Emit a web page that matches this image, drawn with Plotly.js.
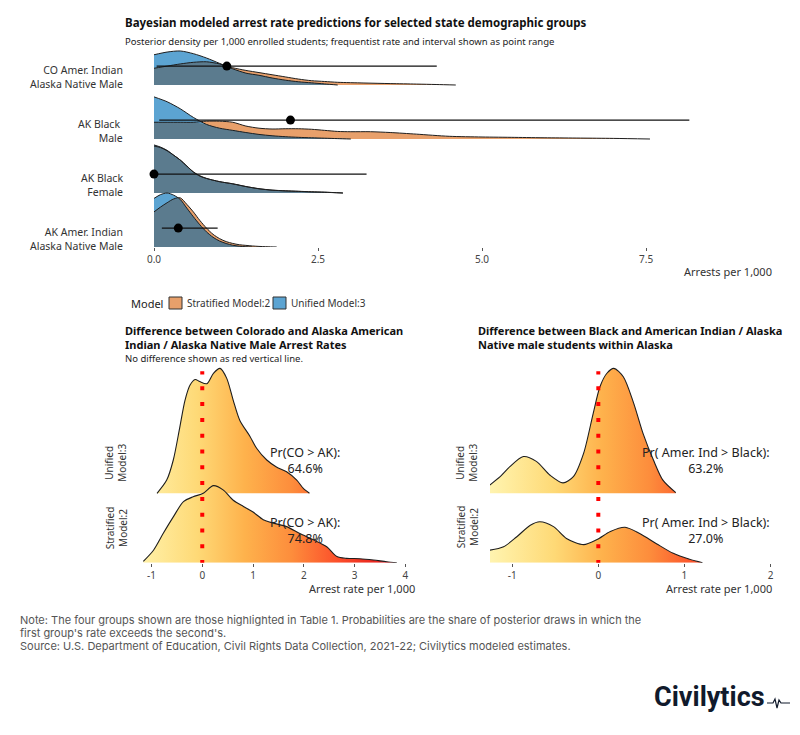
<!DOCTYPE html>
<html>
<head>
<meta charset="UTF-8">
<script src="https://cdn.plot.ly/plotly-3.0.1.min.js"></script>
<style>
  body { margin: 0; background: #fff; }
  #chart { width: 800px; height: 735px; }
</style>
</head>
<body>
<div id="chart"></div>
<script>
// ---- top panel: posterior densities per group (scaled, 1 = ridge spacing) ----
const groupLabels = ['AK Amer. Indian<br>Alaska Native Male', 'AK Black<br>Female', 'AK Black\u00a0<br>Male', 'CO Amer. Indian<br>Alaska Native Male'];

const akAianX = [0, 0.1, 0.2, 0.3, 0.4, 0.5, 0.6, 0.7, 0.8, 0.9, 1.0, 1.1, 1.2, 1.3, 1.4, 1.5, 1.6, 1.7, 1.8, 1.87];
const akAianStrat = [0.65, 0.74, 0.82, 0.89, 0.91, 0.79, 0.65, 0.49, 0.35, 0.235, 0.155, 0.10, 0.066, 0.042, 0.03, 0.019, 0.011, 0.006, 0.002, 0];
const akAianUnif = [0.90, 0.97, 1.0, 0.96, 0.88, 0.72, 0.56, 0.41, 0.28, 0.18, 0.11, 0.065, 0.033, 0.015, 0.004, 0];

const akBfX = [0, 0.1, 0.2, 0.3, 0.4, 0.5, 0.6, 0.7, 0.8, 1.0, 1.2, 1.4, 1.6, 1.8, 2.0, 2.2, 2.4, 2.6, 2.88];
const akBfStrat = [0.87, 0.84, 0.78, 0.70, 0.61, 0.50, 0.39, 0.32, 0.27, 0.21, 0.17, 0.12, 0.08, 0.054, 0.041, 0.032, 0.023, 0.016, 0];
const akBfUnif = [0.89, 0.85, 0.79, 0.70, 0.61, 0.50, 0.39, 0.31, 0.27, 0.21, 0.17, 0.12, 0.078, 0.052, 0.039, 0.03, 0.02, 0.013, 0];

const akBmX = [0, 0.2, 0.4, 0.6, 0.8, 1.0, 1.2, 1.4, 1.6, 1.8, 2.0, 2.2, 2.4, 2.6, 2.8, 3.0, 3.3, 3.6, 4.0, 4.5, 5.0, 5.5, 6.0, 6.5, 7.0, 7.56];
const akBmStrat = [0.31, 0.31, 0.31, 0.31, 0.33, 0.33, 0.31, 0.24, 0.20, 0.185, 0.19, 0.19, 0.18, 0.16, 0.14, 0.135, 0.135, 0.12, 0.09, 0.05, 0.037, 0.03, 0.022, 0.017, 0.011, 0];
const akBmUnif = [0.78, 0.69, 0.56, 0.40, 0.27, 0.20, 0.16, 0.12, 0.085, 0.06, 0.043, 0.031, 0.022, 0.015, 0.007, 0];

const coAianX = [0, 0.2, 0.4, 0.6, 0.8, 1.0, 1.2, 1.4, 1.6, 1.8, 2.0, 2.2, 2.4, 2.6, 2.8, 3.2, 3.6, 4.0, 4.3, 4.6];
const coAianStrat = [0.31, 0.35, 0.39, 0.42, 0.43, 0.39, 0.32, 0.27, 0.23, 0.19, 0.15, 0.11, 0.08, 0.065, 0.05, 0.037, 0.026, 0.017, 0.009, 0];
const coAianUnif = [0.56, 0.61, 0.63, 0.58, 0.50, 0.40, 0.30, 0.22, 0.18, 0.13, 0.09, 0.06, 0.04, 0.02, 0];

// frequentist rate and interval
const freqRate = [0.37, 0, 2.08, 1.11];
const freqLow = [0.12, 0, 0.08, 0.04];
const freqHigh = [0.97, 3.24, 8.16, 4.31];

// ---- bottom panels: posterior difference densities ----
const coAkUnifX = [-0.89, -0.70, -0.57, -0.44, -0.34, -0.24, -0.14, -0.05, 0.09, 0.22, 0.35, 0.48, 0.61, 0.74, 0.94, 1.07, 1.27, 1.46, 1.66, 1.86, 1.99, 2.11];
const coAkUnifY = [0, 0.19, 0.48, 0.96, 1.34, 1.56, 1.64, 1.61, 1.58, 1.73, 1.80, 1.66, 1.34, 1.05, 0.82, 0.65, 0.48, 0.38, 0.31, 0.19, 0.07, 0];
const coAkStratX = [-1.16, -0.96, -0.77, -0.57, -0.37, -0.18, 0.02, 0.22, 0.41, 0.61, 0.81, 1.0, 1.2, 1.40, 1.66, 1.92, 2.19, 2.45, 2.65, 2.84, 3.1, 3.37, 3.63, 3.83];
const coAkStratY = [0.02, 0.18, 0.42, 0.66, 0.88, 0.95, 1.0, 1.11, 1.05, 0.90, 0.81, 0.73, 0.62, 0.57, 0.52, 0.42, 0.33, 0.23, 0.09, 0.063, 0.058, 0.039, 0.014, 0];

const bAiUnifX = [-1.26, -1.14, -1.03, -0.87, -0.72, -0.56, -0.41, -0.29, -0.17, -0.06, 0.02, 0.10, 0.18, 0.29, 0.41, 0.52, 0.64, 0.75, 0.90];
const bAiUnifY = [0.12, 0.24, 0.38, 0.53, 0.46, 0.26, 0.15, 0.24, 0.58, 1.15, 1.54, 1.73, 1.80, 1.68, 1.30, 0.86, 0.48, 0.19, 0.01];
const bAiStratX = [-1.26, -1.10, -0.95, -0.79, -0.68, -0.52, -0.37, -0.17, -0.02, 0.14, 0.31, 0.48, 0.68, 0.87, 1.06, 1.21];
const bAiStratY = [0.18, 0.23, 0.37, 0.54, 0.59, 0.52, 0.35, 0.26, 0.33, 0.45, 0.51, 0.42, 0.27, 0.135, 0.05, 0];

const modelLabels = ['Stratified<br>Model:2', 'Unified<br>Model:3'];
const probCoAk = ['74.8%', '64.6%'];
const probAiB = ['27.0%', '63.2%'];

const ORANGE = '#E8A06B';
const BLUE = '#5CA4D2';
const SLATE = '#5B7B8E';
const INK = '#1e1e1e';
const FONT = 'Noto Sans, DejaVu Sans, sans-serif';

const W = 800, H = 735;
const px = v => v / W;
const py = v => 1 - v / H;

const YLORRD = [[0, '#ffffcc'], [0.125, '#ffeda0'], [0.25, '#fed976'], [0.375, '#feb24c'], [0.5, '#fd8d3c'], [0.625, '#fc4e2a'], [0.75, '#e31a1c'], [0.875, '#bd0026'], [1, '#800026']];

const traces = [];

function baseTrace(xs, base, xa, ya) {
  return {
    x: [xs[0], xs[xs.length - 1]], y: [base, base], xaxis: xa, yaxis: ya,
    mode: 'lines', line: { width: 0 }, hoverinfo: 'skip', showlegend: false
  };
}

function areaTrace(xs, hs, base, xa, ya, extra) {
  return Object.assign({
    x: xs, y: hs.map(h => base + h), xaxis: xa, yaxis: ya,
    mode: 'lines', fill: 'tonexty', hoverinfo: 'skip', showlegend: false,
    line: { width: 0, shape: 'spline', smoothing: 0.8 }
  }, extra);
}

function outline(xs, hs, base, xa, ya, w) {
  return {
    x: xs, y: hs.map(h => base + h), xaxis: xa, yaxis: ya,
    mode: 'lines', hoverinfo: 'skip', showlegend: false,
    line: { color: INK, width: w, shape: 'spline', smoothing: 0.8 }
  };
}

// top ridges (drawn from top row to bottom row)
const ridgeData = [
  [akAianX, akAianStrat, akAianUnif],
  [akBfX, akBfStrat, akBfUnif],
  [akBmX, akBmStrat, akBmUnif],
  [coAianX, coAianStrat, coAianUnif]
];
for (let g = ridgeData.length - 1; g >= 0; g--) {
  const [xs, st, un] = ridgeData[g];
  const xu = xs.slice(0, un.length);
  const ov = un.map((v, i) => Math.min(v, st[i]));
  traces.push(baseTrace(xs, g, 'x', 'y'));
  traces.push(areaTrace(xs, st, g, 'x', 'y', { fillcolor: ORANGE }));
  traces.push(baseTrace(xu, g, 'x', 'y'));
  traces.push(areaTrace(xu, un, g, 'x', 'y', { fillcolor: BLUE }));
  traces.push(baseTrace(xu, g, 'x', 'y'));
  traces.push(areaTrace(xu, ov, g, 'x', 'y', { fillcolor: SLATE }));
  traces.push(outline(xs, st, g, 'x', 'y', 1));
  traces.push(outline(xu, un, g, 'x', 'y', 1));
}

// point ranges
const prY = 0.35;
for (let g = 0; g < freqRate.length; g++) {
  traces.push({
    x: [freqLow[g], freqHigh[g]], y: [g + prY, g + prY], xaxis: 'x', yaxis: 'y',
    mode: 'lines', line: { color: '#111', width: 1.3 }, hoverinfo: 'skip', showlegend: false
  });
}
traces.push({
  x: freqRate, y: freqRate.map((_, g) => g + prY), xaxis: 'x', yaxis: 'y',
  mode: 'markers', marker: { color: '#000', size: 9 }, cliponaxis: false,
  hoverinfo: 'skip', showlegend: false
});

// bottom gradient ridges
function gradRidge(xs, hs, base, xa, ya, start, stop) {
  traces.push(baseTrace(xs, base, xa, ya));
  traces.push(areaTrace(xs, hs, base, xa, ya, {
    fillgradient: { type: 'horizontal', start: start, stop: stop, colorscale: YLORRD },
    line: { color: INK, width: 1.1, shape: 'spline', smoothing: 0.8 }
  }));
}
gradRidge(coAkUnifX, coAkUnifY, 1, 'x2', 'y2', -1.94, 5.46);
gradRidge(coAkStratX, coAkStratY, 0, 'x2', 'y2', -1.94, 5.46);
gradRidge(bAiUnifX, bAiUnifY, 1, 'x3', 'y3', -1.61, 2.80);
gradRidge(bAiStratX, bAiStratY, 0, 'x3', 'y3', -1.61, 2.80);

// no-difference lines
['2', '3'].forEach(k => {
  traces.push({
    x: [0, 0], y: [-0.02, 2.76], xaxis: 'x' + k, yaxis: 'y' + k,
    mode: 'lines', line: { color: '#FF0000', width: 4, dash: '4px,11.8px' },
    hoverinfo: 'skip', showlegend: false
  });
});

const annotations = [];
function txt(text, x, y, opts) {
  annotations.push(Object.assign({
    text: text, x: x, y: y, xref: 'paper', yref: 'paper', showarrow: false,
    xanchor: 'left', yanchor: 'middle', align: 'left',
    font: { family: FONT, size: 10, color: '#333' }
  }, opts));
}

// titles
txt('<b>Bayesian modeled arrest rate predictions for selected state demographic groups</b>', px(123), py(23), { font: { family: FONT, size: 11.5, color: '#111' } });
txt('Posterior density per 1,000 enrolled students; frequentist rate and interval shown as point range', px(123), py(41), { font: { family: FONT, size: 9.5, color: '#222' } });
txt('Arrests per 1,000', px(774), py(272), { xanchor: 'right', font: { family: FONT, size: 11, color: '#333' } });

groupLabels.forEach((lab, g) => {
  annotations.push({
    text: lab, x: px(125), y: g + 0.15, xref: 'paper', yref: 'y', showarrow: false,
    xanchor: 'right', yanchor: 'middle', align: 'right',
    font: { family: FONT, size: 10.5, color: '#333' }
  });
});

// legend
txt('Model', px(129), py(303), { font: { family: FONT, size: 11, color: '#222' } });
txt('Stratified Model:2', px(185), py(303), { font: { family: FONT, size: 10, color: '#333' } });
txt('Unified Model:3', px(289), py(303), { font: { family: FONT, size: 10, color: '#333' } });

// bottom panel titles
txt('<b>Difference between Colorado and Alaska American<br>Indian / Alaska Native Male Arrest Rates</b>', px(123), py(337), { font: { family: FONT, size: 11, color: '#111' } });
txt('No difference shown as red vertical line.', px(123), py(358.5), { font: { family: FONT, size: 9.5, color: '#222' } });
txt('<b>Difference between Black and American Indian / Alaska<br>Native male students within Alaska</b>', px(476), py(337), { font: { family: FONT, size: 11, color: '#111' } });
txt('Arrest rate per 1,000', px(417), py(588), { xanchor: 'right', font: { family: FONT, size: 11, color: '#333' } });
txt('Arrest rate per 1,000', px(774), py(588), { xanchor: 'right', font: { family: FONT, size: 11, color: '#333' } });

// model labels (rotated) and probabilities
[0, 1].forEach(m => {
  const yLab = m === 1 ? 1.44 : 0.51;
  annotations.push({ text: modelLabels[m], x: px(116), y: yLab, xref: 'paper', yref: 'y2', showarrow: false, textangle: -90, xanchor: 'center', yanchor: 'middle', font: { family: FONT, size: 10, color: '#333' } });
  annotations.push({ text: modelLabels[m], x: px(467), y: yLab, xref: 'paper', yref: 'y3', showarrow: false, textangle: -90, xanchor: 'center', yanchor: 'middle', font: { family: FONT, size: 10, color: '#333' } });
  const yPr = m === 1 ? 1.48 : 0.47;
  annotations.push({ text: 'Pr(CO > AK):<br>' + probCoAk[m], x: 2.02, y: yPr, xref: 'x2', yref: 'y2', showarrow: false, xanchor: 'center', yanchor: 'middle', font: { family: FONT, size: 12.5, color: '#222' } });
  annotations.push({ text: 'Pr( Amer. Ind > Black):<br>' + probAiB[m], x: 1.25, y: yPr, xref: 'x3', yref: 'y3', showarrow: false, xanchor: 'center', yanchor: 'middle', font: { family: FONT, size: 12.5, color: '#222' } });
});

// footer
const NOTE_FONT = { family: 'Inter, Liberation Sans, sans-serif', size: 11, color: '#555' };
txt("Note: The four groups shown are those highlighted in Table 1. Probabilities are the share of posterior draws in which the", px(18), py(620), { font: NOTE_FONT });
txt("first group's rate exceeds the second's.", px(18), py(633), { font: NOTE_FONT });
txt('Source: U.S. Department of Education, Civil Rights Data Collection, 2021-22; Civilytics modeled estimates.', px(18), py(646), { font: NOTE_FONT });
txt('<b>Civilytics</b>', px(767), py(697), { xanchor: 'right', font: { family: 'Liberation Sans Narrow, Roboto, sans-serif', size: 27, color: '#111a2c' } });

const shapes = [
  { type: 'rect', xref: 'paper', yref: 'paper', x0: px(169), x1: px(182), y0: py(309), y1: py(297), fillcolor: ORANGE, line: { color: '#333', width: 1 } },
  { type: 'rect', xref: 'paper', yref: 'paper', x0: px(273), x1: px(286), y0: py(309), y1: py(297), fillcolor: BLUE, line: { color: '#333', width: 1 } }
];
// small pulse mark next to the logo
const pulse = [[767, 703], [773, 703], [775, 699], [777, 708], [779, 700], [781, 703], [790, 703]];
shapes.push({
  type: 'path', xref: 'paper', yref: 'paper',
  path: pulse.map((p, i) => (i ? 'L' : 'M') + px(p[0]).toFixed(5) + ',' + py(p[1]).toFixed(5)).join(' '),
  line: { color: '#111a2c', width: 1.2 }
});

const axisCommon = {
  showgrid: false, zeroline: false, showline: false, ticks: 'outside', ticklen: 3,
  tickcolor: '#555', tickfont: { family: FONT, size: 10, color: '#444' }, fixedrange: true
};

const layout = {
  width: W, height: H,
  margin: { l: 0, r: 0, t: 0, b: 0 },
  paper_bgcolor: '#fff', plot_bgcolor: 'rgba(0,0,0,0)',
  showlegend: false,
  xaxis: Object.assign({}, axisCommon, {
    domain: [px(154), px(772)], range: [0, 9.42], anchor: 'y',
    tickvals: [0, 2.5, 5, 7.5], ticktext: ['0.0', '2.5', '5.0', '7.5']
  }),
  yaxis: { domain: [py(247), py(45)], range: [0, 3.7407], visible: false, fixedrange: true },
  xaxis2: Object.assign({}, axisCommon, {
    domain: [px(141.3), px(414.6)], range: [-1.2, 4.18], anchor: 'y2',
    tickvals: [-1, 0, 1, 2, 3, 4], ticktext: ['-1', '0', '1', '2', '3', '4']
  }),
  yaxis2: { domain: [py(562.7), py(365)], range: [0, 2.849], visible: false, fixedrange: true },
  xaxis3: Object.assign({}, axisCommon, {
    domain: [px(490), px(772)], range: [-1.258, 2.017], anchor: 'y3',
    tickvals: [-1, 0, 1, 2], ticktext: ['-1', '0', '1', '2']
  }),
  yaxis3: { domain: [py(562.7), py(365)], range: [0, 2.849], visible: false, fixedrange: true },
  annotations: annotations,
  shapes: shapes
};

Plotly.newPlot('chart', traces, layout, { staticPlot: true });
</script>
</body>
</html>
